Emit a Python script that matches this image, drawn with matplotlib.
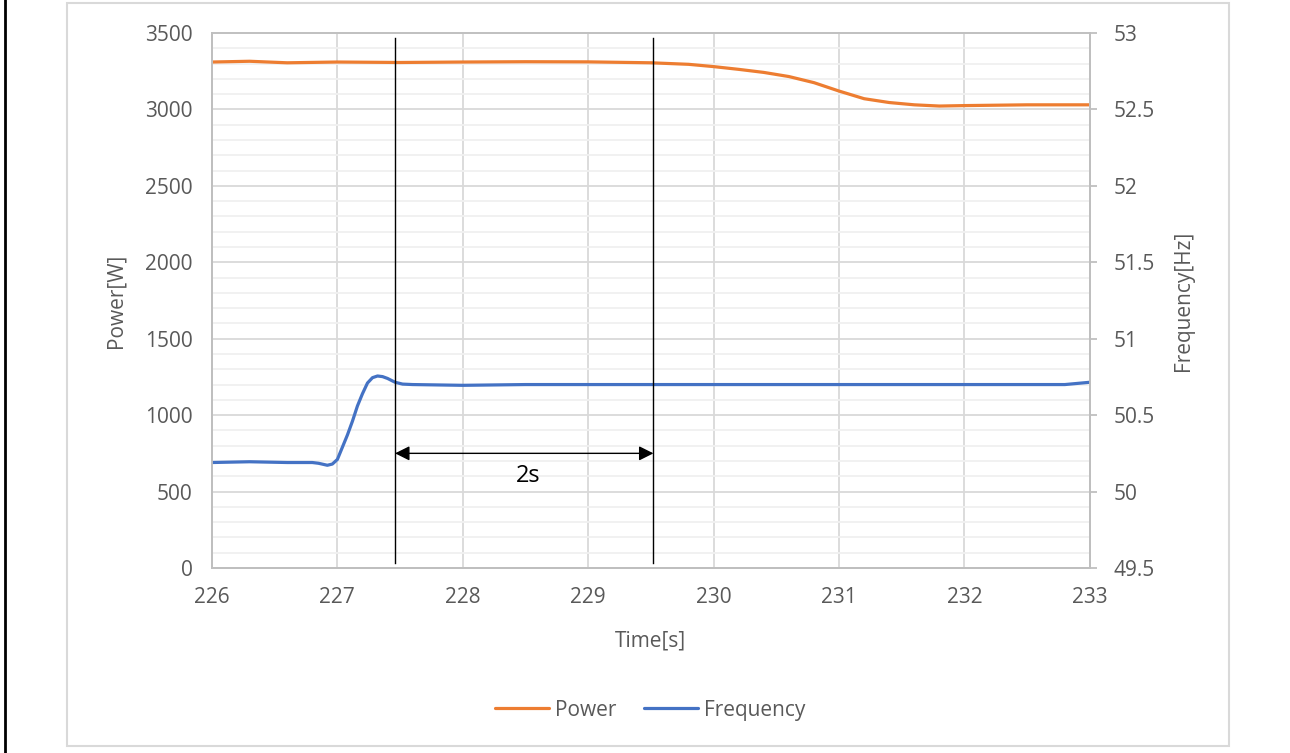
import matplotlib.pyplot as plt
import matplotlib.patches as patches
from matplotlib.lines import Line2D
from matplotlib.ticker import MultipleLocator

plt.rcParams['font.family'] = ['Open Sans', 'DejaVu Sans']

# power trace
time_p = [226.0, 226.3, 226.6, 227.0, 227.5, 228.0, 228.5, 229.0, 229.5, 229.8,
          230.0, 230.2, 230.4, 230.6, 230.8, 231.0, 231.2, 231.4, 231.6, 231.8,
          232.0, 232.5, 233.0]
power = [3310, 3315, 3305, 3310, 3307, 3310, 3312, 3311, 3305, 3295,
         3280, 3262, 3242, 3215, 3175, 3120, 3070, 3045, 3030, 3022,
         3025, 3030, 3030]

# frequency trace
time_f = [226.0, 226.3, 226.6, 226.8, 226.85, 226.92, 226.96, 227.0, 227.04, 227.08,
          227.12, 227.16, 227.2, 227.24, 227.28, 227.32, 227.36, 227.4, 227.46, 227.52,
          227.6, 228.0, 228.5, 229.0, 229.5, 230.0, 230.5, 231.0, 231.5, 232.0,
          232.5, 232.8, 233.0]
freq = [50.19, 50.195, 50.19, 50.19, 50.185, 50.172, 50.18, 50.21, 50.29, 50.37,
        50.46, 50.56, 50.64, 50.71, 50.745, 50.756, 50.752, 50.74, 50.715, 50.703,
        50.70, 50.695, 50.70, 50.70, 50.70, 50.70, 50.70, 50.70, 50.70, 50.70,
        50.70, 50.70, 50.715]

# markers for the 2 s interval
t_start = 227.46
t_end = 229.52

grey = '#595959'
fs = 15

fig = plt.figure(figsize=(12.9, 7.53), dpi=100)
ax = fig.add_axes([0.1643, 0.2457, 0.6806, 0.7105])
ax2 = ax.twinx()

ax.set_xlim(226, 233)
ax.set_ylim(0, 3500)
ax2.set_ylim(49.5, 53)

ax.yaxis.set_major_locator(MultipleLocator(500))
ax.yaxis.set_minor_locator(MultipleLocator(100))
ax.xaxis.set_major_locator(MultipleLocator(1))

ax.grid(which='major', color='#d9d9d9', lw=1.3)
ax.grid(which='minor', axis='y', color='#f0f0f0', lw=1.3)
ax.set_axisbelow(True)

for a in (ax, ax2):
    for s in a.spines.values():
        s.set_color('#bfbfbf')
        s.set_linewidth(1.3)
ax.spines['top'].set_color('#d9d9d9')

ax.tick_params(axis='y', which='both', length=0, pad=14, labelsize=fs, labelcolor=grey)
ax.tick_params(axis='x', which='both', length=0, pad=14, labelsize=fs, labelcolor=grey)
ax2.tick_params(axis='y', length=5, width=1.3, color='#bfbfbf', pad=12,
                labelsize=fs, labelcolor=grey)
ax2.set_yticks([49.5, 50, 50.5, 51, 51.5, 52, 52.5, 53])
ax2.set_yticklabels(['49.5', '50', '50.5', '51', '51.5', '52', '52.5', '53'])

ax.plot(time_p, power, color='#ED7D31', lw=2.3, label='Power',
        solid_joinstyle='round', solid_capstyle='round')
ax2.plot(time_f, freq, color='#4472C4', lw=2.3, label='Frequency',
         solid_joinstyle='round', solid_capstyle='round')

ax.set_ylabel('Power[W]', fontsize=fs, color=grey)
ax.yaxis.set_label_coords(-0.097, 0.5)
ax2.set_ylabel('Frequency[Hz]', fontsize=fs, color=grey)
ax2.yaxis.set_label_coords(1.095, 0.5)
ax.set_xlabel('Time[s]', fontsize=fs, color=grey)
ax.xaxis.set_label_coords(0.5, -0.117)

# interval markers
ax2.plot([t_start, t_start], [49.53, 52.97], color='black', lw=1, zorder=5)
ax2.plot([t_end, t_end], [49.53, 52.97], color='black', lw=1, zorder=5)
ax2.annotate('', xy=(t_start, 50.25), xytext=(t_end, 50.25),
             arrowprops=dict(arrowstyle='<|-|>', color='black', lw=1,
                             mutation_scale=22, shrinkA=0, shrinkB=0), zorder=6)
ax2.text((t_start + t_end) / 2 + 0.03, 50.10, '2s', fontsize=17, color='black',
         ha='center', va='center')

h1, l1 = ax.get_legend_handles_labels()
h2, l2 = ax2.get_legend_handles_labels()
fig.legend(h1 + h2, l1 + l2, loc='center', bbox_to_anchor=(0.504, 0.057), ncol=2,
           frameon=False, fontsize=fs, labelcolor=grey, handlelength=2.6,
           columnspacing=1.3, handletextpad=0.3)

# chart frame and left border
fig.add_artist(patches.Rectangle((0.0519, 0.0093), 0.9008, 0.9867, transform=fig.transFigure,
                                 fill=False, edgecolor='#d9d9d9', lw=1.5))
fig.add_artist(Line2D([0.0039, 0.0039], [0, 1], transform=fig.transFigure,
                      color='black', lw=2))

fig.savefig('out.png', dpi=100)
